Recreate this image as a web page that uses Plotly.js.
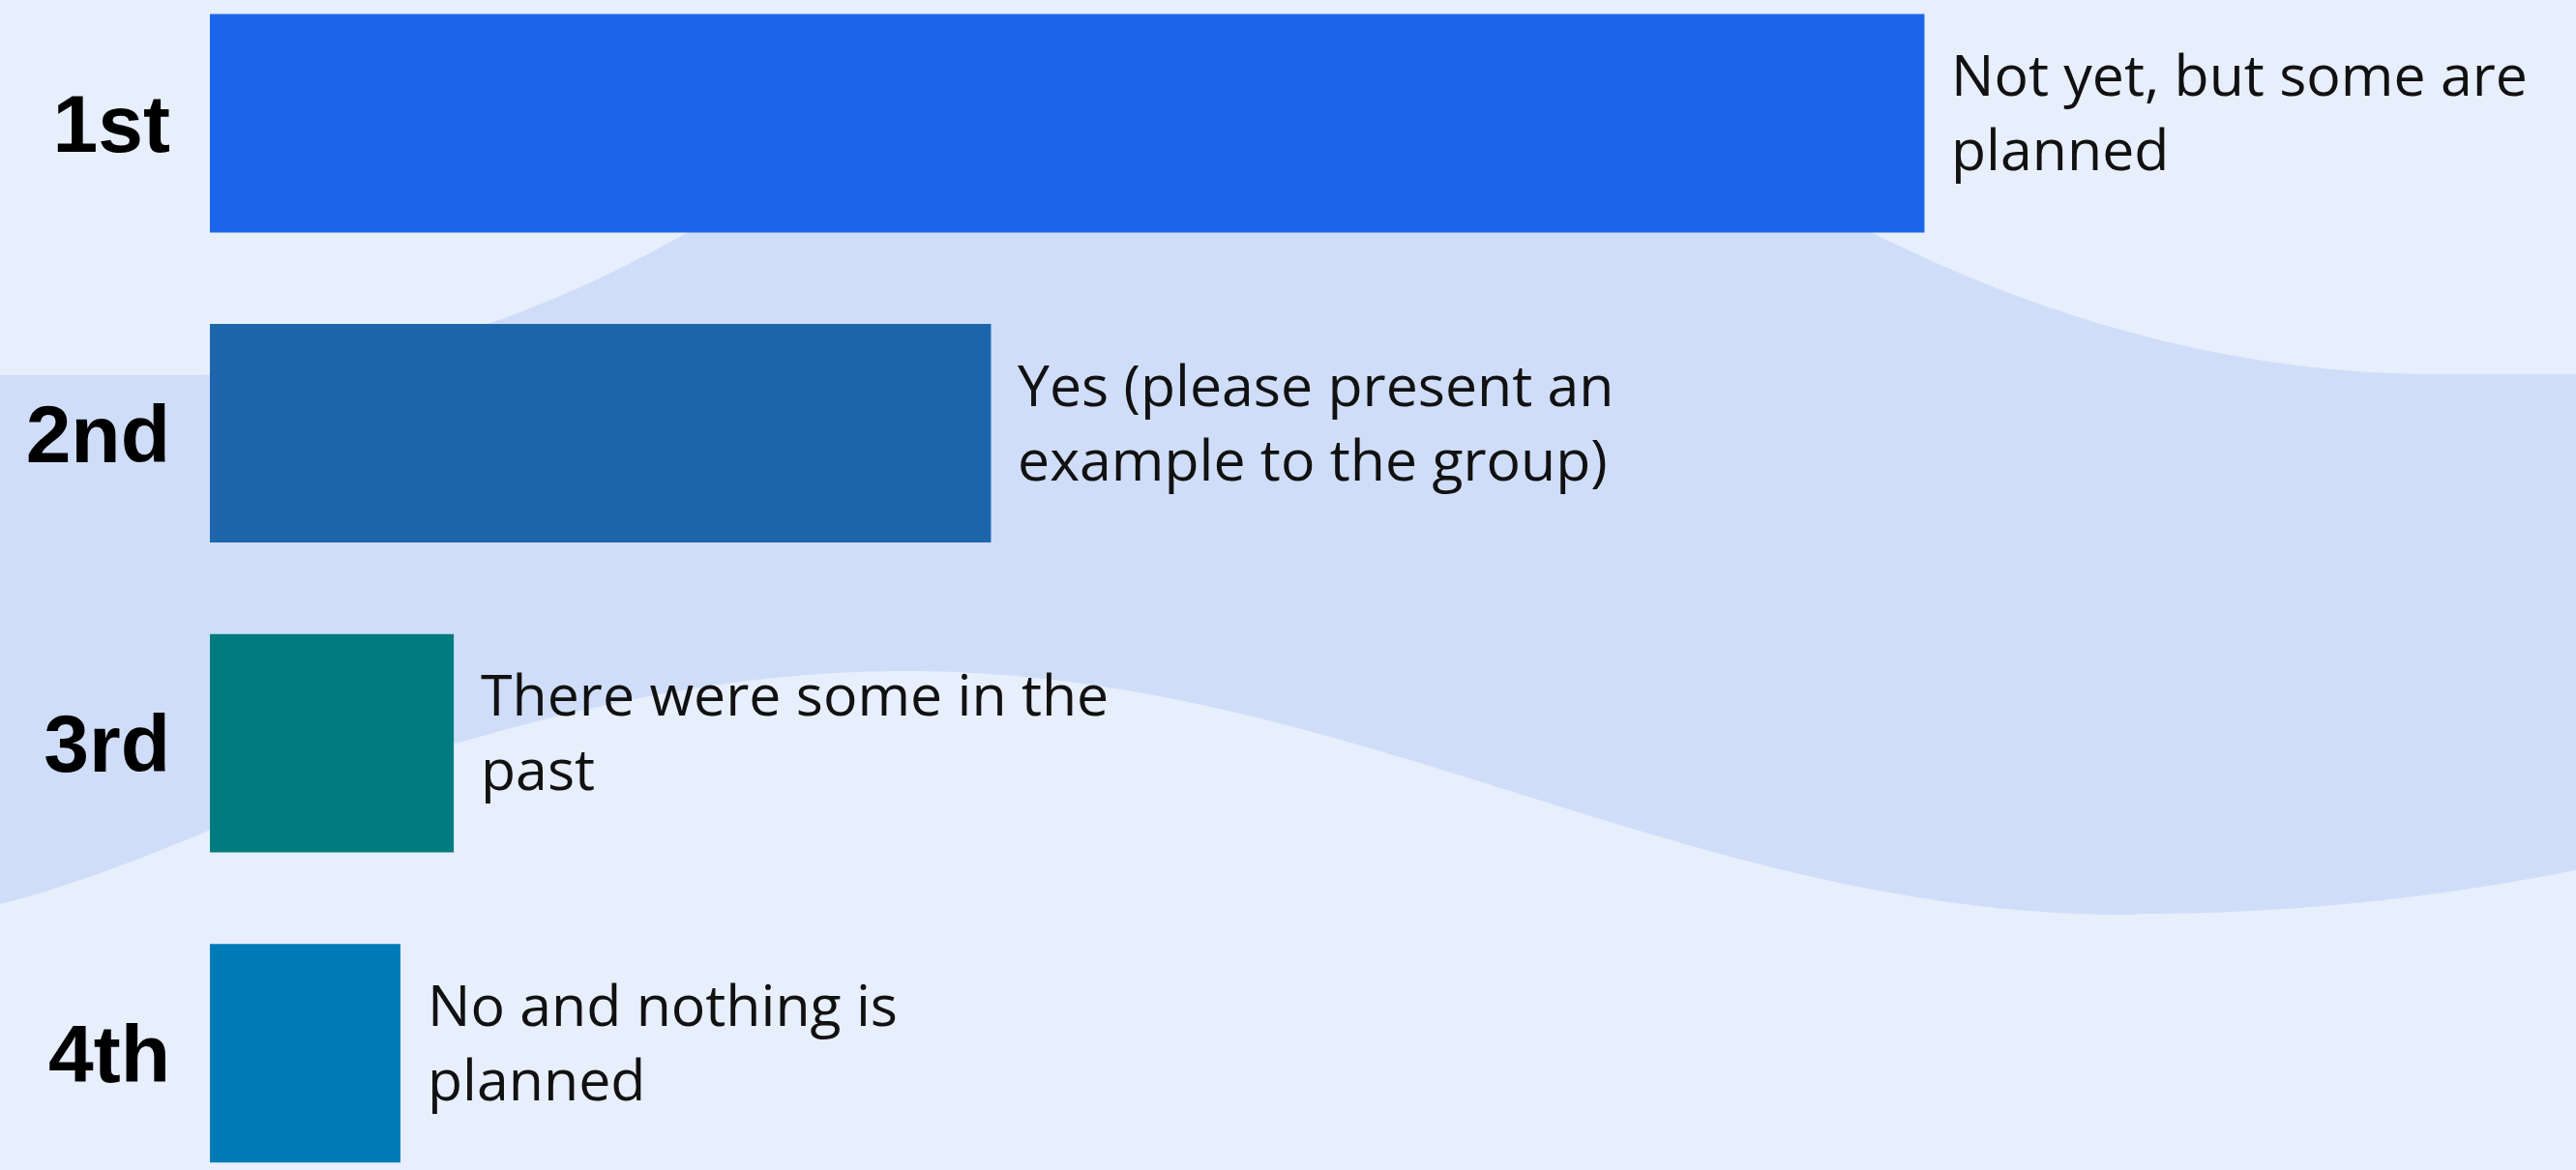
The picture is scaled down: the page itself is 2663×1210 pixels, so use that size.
<!DOCTYPE html>
<html><head><meta charset="utf-8">
<script src="https://cdn.plot.ly/plotly-3.0.1.min.js"></script>
<style>html,body{margin:0;padding:0;background:#e6eefd;} #chart{width:2663px;height:1210px;}</style>
</head><body><div id="chart"></div>
<script>
// ---- data ----
const ranks = ['1st', '2nd', '3rd', '4th'];
const answers = [
  'Not yet, but some are planned',
  'Yes (please present an example to the group)',
  'There were some in the past',
  'No and nothing is planned'
];
const scores = [9.0, 4.1, 1.28, 1.0];
const barColors = ['#1b65ea', '#1e66ac', '#007c80', '#007bb8'];

// ---- helpers ----
function wrap(s, n) {
  const words = s.split(' '); const lines = []; let cur = '';
  for (const w of words) {
    if (cur && (cur + ' ' + w).length > n) { lines.push(cur); cur = w; }
    else cur = cur ? cur + ' ' + w : w;
  }
  if (cur) lines.push(cur);
  return lines.join('<br>');
}

const W = 2663, H = 1210, ML = 217, PW = W - ML;
function fmt(x, y) { return ((x - ML) / PW).toFixed(5) + ',' + (1 - y / H).toFixed(5); }

// decorative background wave outline, in pixels
function waveUpper(x) {
  const yl = 388 - 5.58e-4 * Math.pow(Math.max(0, x - 196), 2);
  const yr = 387 - 4.28e-4 * Math.pow(Math.max(0, 2520 - x), 2);
  return Math.max(yl, yr, 60);
}
function waveLower(x) {
  if (x >= 2210) return 945 - 2.2e-4 * Math.pow(x - 2210, 2);
  if (x >= 469) return 820 - 126 * Math.cos(Math.PI * (x - 935) / 1265);
  const t = x / 469, t2 = t * t, t3 = t2 * t;
  const m0 = -0.25 * 469, m1 = -0.287 * 469;
  return (2*t3 - 3*t2 + 1) * 935 + (t3 - 2*t2 + t) * m0 + (-2*t3 + 3*t2) * 763 + (t3 - t2) * m1;
}
let wavePath = '';
for (let x = -10; x <= W + 10; x += 6) wavePath += (wavePath ? ' L' : 'M') + fmt(x, waveUpper(Math.max(0, x)));
for (let x = W + 10; x >= -10; x -= 6) wavePath += ' L' + fmt(x, waveLower(Math.max(0, Math.min(W, x))));
wavePath += ' Z';

const trace = {
  type: 'bar', orientation: 'h',
  x: scores, y: ranks,
  marker: { color: barColors, line: { width: 0 } },
  hoverinfo: 'skip'
};

const layout = {
  width: W, height: H,
  margin: { l: ML, r: 0, t: 0, b: 0, pad: 0 },
  paper_bgcolor: '#e7eefc', plot_bgcolor: 'rgba(0,0,0,0)',
  showlegend: false, bargap: 0.295,
  xaxis: { range: [0, 12.42], visible: false, fixedrange: true },
  yaxis: {
    type: 'category', categoryorder: 'array', categoryarray: ranks,
    range: [3.377, -0.398], autorange: false,
    showgrid: false, zeroline: false, showline: false, ticks: '',
    ticklabelstandoff: 40,
    tickfont: { family: 'Liberation Sans, Arial, sans-serif', size: 84, color: '#000000', weight: 'bold' }
  },
  shapes: [{
    type: 'path', xref: 'paper', yref: 'paper', layer: 'below',
    path: wavePath, fillcolor: '#cfddf8', line: { width: 0 }
  }],
  annotations: ranks.map((r, i) => ({
    x: scores[i], y: r, xref: 'x', yref: 'y',
    text: wrap(answers[i], 22), showarrow: false,
    xanchor: 'left', yanchor: 'middle', align: 'left',
    xshift: 26, yshift: 13,
    font: { family: 'Open Sans, sans-serif', size: 59, color: '#111111' }
  }))
};

Plotly.newPlot('chart', [trace], layout, { staticPlot: true, displayModeBar: false });
</script>
</body></html>
